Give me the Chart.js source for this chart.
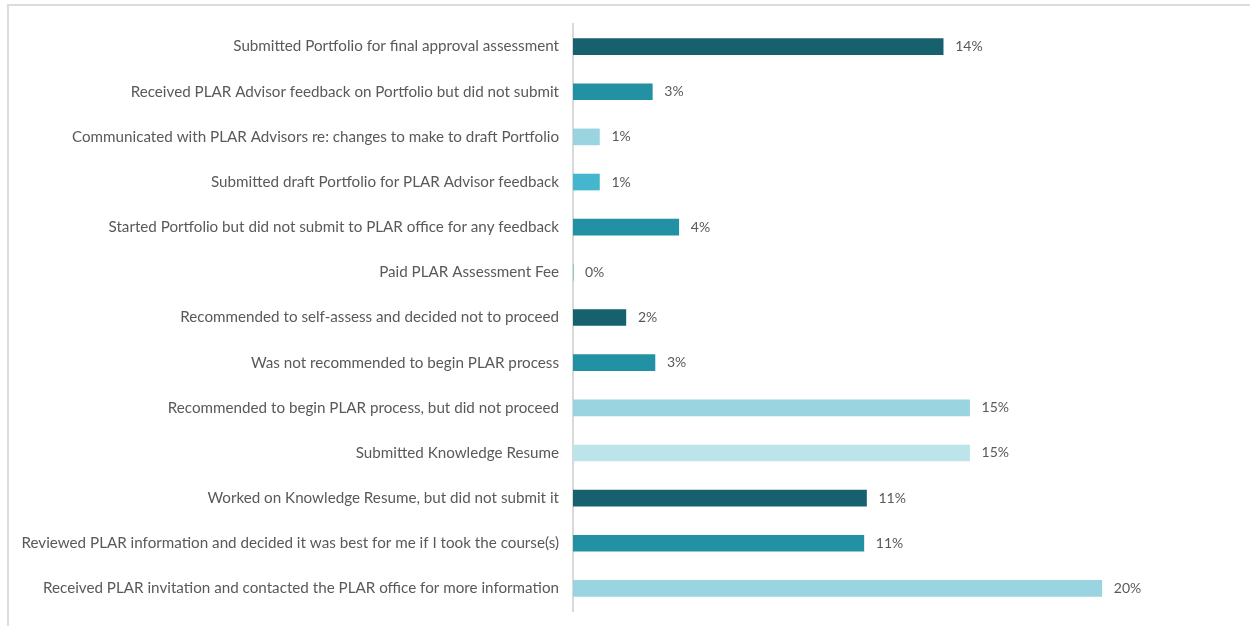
<!DOCTYPE html>
<html>
<head>
<meta charset="utf-8">
<script src="https://cdn.jsdelivr.net/npm/chart.js@4"></script>
<style>
    html, body { margin: 0; padding: 0; background: #ffffff; }
    #wrap { position: relative; width: 1250px; height: 626px; }
    #frame {
        position: absolute; left: 7px; top: 4px; right: 0; bottom: 0;
        border-top: 2px solid #dcdcdc; border-left: 2px solid #dcdcdc;
    }
    canvas { position: absolute; left: 0; top: 0; }
</style>
</head>
<body>
<div id="wrap">
    <div id="frame"></div>
    <canvas id="barChart" width="1250" height="626"></canvas>
</div>
<script>
// categories, top to bottom
const categories = [
    "Submitted Portfolio for final approval assessment",
    "Received PLAR Advisor feedback on Portfolio but did not submit",
    "Communicated with PLAR Advisors re: changes to make to draft Portfolio",
    "Submitted draft Portfolio for PLAR Advisor feedback",
    "Started Portfolio but did not submit to PLAR office for any feedback",
    "Paid PLAR Assessment Fee",
    "Recommended to self-assess and decided not to proceed",
    "Was not recommended to begin PLAR process",
    "Recommended to begin PLAR process, but did not proceed",
    "Submitted Knowledge Resume",
    "Worked on Knowledge Resume, but did not submit it",
    "Reviewed PLAR information and decided it was best for me if I took the course(s)",
    "Received PLAR invitation and contacted the PLAR office for more information"
];

// share of respondents (%)
const values = [14, 3, 1, 1, 4, 0, 2, 3.1, 15, 15, 11.1, 11, 20];

// bar colours
const barColours = [
    "#17616F", "#2291A4", "#9AD4E1", "#44B6CD", "#2291A4", "#2291A4", "#17616F",
    "#2291A4", "#9AD4E1", "#BDE3EB", "#17616F", "#2291A4", "#9AD4E1"
];

const textColour = "#595959";
const fontFamily = "Lato, 'Open Sans', sans-serif";

// labels at the end of the bars
const valueLabels = {
    id: "valueLabels",
    afterDatasetsDraw(chart) {
        const ctx = chart.ctx;
        const meta = chart.getDatasetMeta(0);
        ctx.save();
        ctx.font = "14px " + fontFamily;
        ctx.fillStyle = textColour;
        ctx.textAlign = "left";
        ctx.textBaseline = "middle";
        meta.data.forEach((bar, i) => {
            ctx.fillText(Math.round(values[i]) + "%", bar.x + 12, bar.y);
        });
        ctx.restore();
    }
};

const canvas = document.getElementById("barChart");

new Chart(canvas, {
    type: "bar",
    data: {
        labels: categories,
        datasets: [{
            data: values,
            backgroundColor: barColours,
            borderWidth: 0,
            barThickness: 16
        }]
    },
    options: {
        indexAxis: "y",
        responsive: false,
        animation: false,
        layout: {
            padding: { top: 24, bottom: 15, left: 0, right: 16 }
        },
        plugins: {
            legend: { display: false },
            tooltip: { enabled: false }
        },
        scales: {
            x: {
                display: false,
                min: 0,
                max: 25
            },
            y: {
                grid: { display: false, drawTicks: false },
                border: { display: true, color: "#d9d9d9", width: 2 },
                ticks: {
                    color: textColour,
                    padding: 14,
                    font: { family: fontFamily, size: 15.2 }
                },
                afterFit(scale) {
                    // fixed left column, no extra top/bottom padding
                    scale.width = 573;
                    scale.paddingTop = 0;
                    scale.paddingBottom = 0;
                }
            }
        }
    },
    plugins: [valueLabels]
});
</script>
</body>
</html>
